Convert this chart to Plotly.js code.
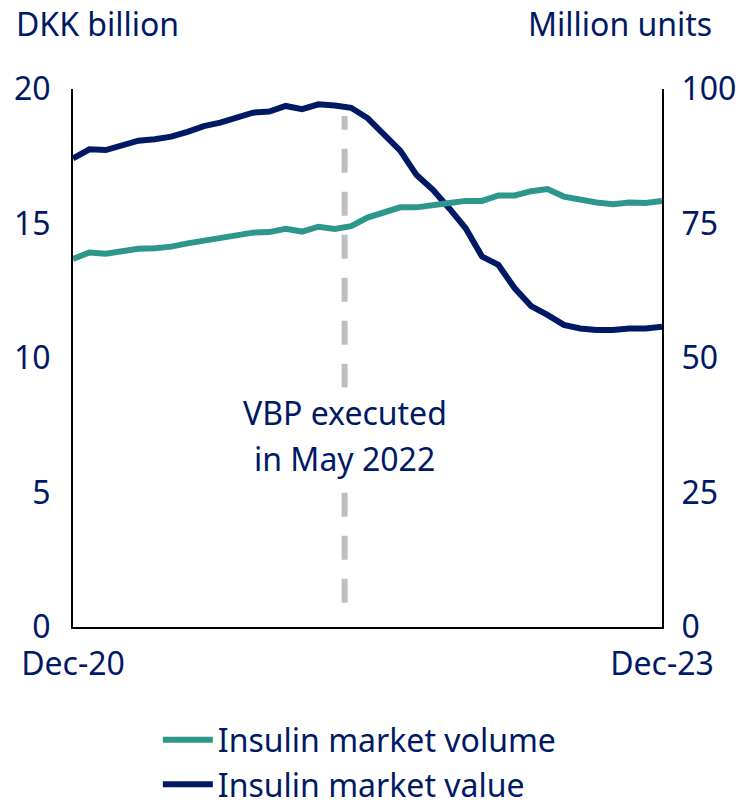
<!DOCTYPE html>
<html>
<head>
<meta charset="utf-8">
<script src="https://cdn.plot.ly/plotly-3.0.1.min.js"></script>
<style>html,body{margin:0;padding:0;background:#fff;}#chart{width:741px;height:805px;}</style>
</head>
<body>
<div id="chart"></div>
<script>
// Monthly index from Dec-20 (0) to Dec-23 (36)
const months = Array.from({length: 37}, (_, i) => i);
const tickVals = [0, 36];
const tickLabels = ['Dec-20', 'Dec-23'];

// Insulin market value, DKK billion (left axis)
const marketValue = [17.42, 17.76, 17.73, 17.92, 18.08, 18.13, 18.23, 18.41, 18.62, 18.75,
  18.91, 19.12, 19.16, 19.37, 19.25, 19.43, 19.39, 19.30, 18.92, 18.29,
  17.71, 16.80, 16.25, 15.56, 14.82, 13.77, 13.46, 12.59, 11.93, 11.60,
  11.23, 11.10, 11.04, 11.04, 11.10, 11.10, 11.16];

// Insulin market volume, million units (right axis)
const marketVolume = [68.4, 69.6, 69.4, 69.9, 70.3, 70.4, 70.7, 71.3, 71.8, 72.1,
  72.6, 73.3, 73.4, 74.0, 73.5, 74.4, 74.0, 74.5, 76.1, 77.0,
  78.0, 78.0, 78.3, 78.8, 79.2, 79.2, 80.2, 80.2, 81.0, 81.4,
  80.0, 79.4, 78.9, 78.6, 78.9, 78.8, 79.2];

const vbpIndex = 16.6;
const navy = '#001965';
const teal = '#2E978C';
const font = 'Noto Sans, Open Sans, sans-serif';
const fs = 32;

const traces = [
  {x: months, y: marketVolume, name: 'Insulin market volume', yaxis: 'y2', type: 'scatter', mode: 'lines',
   line: {color: teal, width: 6}},
  {x: months, y: marketValue, name: 'Insulin market value', yaxis: 'y', type: 'scatter', mode: 'lines',
   line: {color: navy, width: 6}}
];

const layout = {
  width: 741, height: 805,
  margin: {l: 73, r: 79, t: 89, b: 178, autoexpand: false},
  paper_bgcolor: '#fff', plot_bgcolor: '#fff',
  font: {family: font, size: fs, color: navy},
  showlegend: true,
  legend: {xref: 'container', yref: 'container', x: 0.213, xanchor: 'left', y: 0.115, yanchor: 'top',
           orientation: 'v', itemwidth: 50,
           font: {family: font, size: fs, color: navy}, bgcolor: 'rgba(0,0,0,0)', tracegroupgap: 0},
  xaxis: {range: [0, 36], tickvals: tickVals, ticktext: tickLabels, showgrid: false, zeroline: false,
          showline: true, linecolor: '#000', linewidth: 2, ticks: '', ticklabelstandoff: 8, tickangle: 0,
          tickfont: {family: font, size: fs, color: navy}},
  yaxis: {range: [0, 20], dtick: 5, tick0: 0, showgrid: false, zeroline: false,
          showline: true, linecolor: '#000', linewidth: 2, ticks: '', ticklabelstandoff: 14,
          tickfont: {family: font, size: fs, color: navy}},
  yaxis2: {range: [0, 100], dtick: 25, tick0: 0, overlaying: 'y', side: 'right', showgrid: false, zeroline: false,
           showline: true, linecolor: '#000', linewidth: 2, ticks: '', ticklabelstandoff: 11,
           tickfont: {family: font, size: fs, color: navy}},
  shapes: [
    {type: 'line', xref: 'x', yref: 'y', x0: vbpIndex, x1: vbpIndex, y0: 0.9, y1: 19.0,
     line: {color: '#BFBFBF', width: 6, dash: '24px,19px'}, layer: 'below'}
  ],
  annotations: [
    {xref: 'x', yref: 'y', x: vbpIndex, y: 7.99, text: 'VBP executed', showarrow: false,
     xanchor: 'center', yanchor: 'middle', bgcolor: '#fff', borderpad: 3, font: {family: font, size: fs, color: navy}},
    {xref: 'x', yref: 'y', x: vbpIndex, y: 6.28, text: 'in May 2022', showarrow: false,
     xanchor: 'center', yanchor: 'middle', bgcolor: '#fff', borderpad: 3, font: {family: font, size: fs, color: navy}},
    {xref: 'paper', yref: 'paper', x: -0.1, y: 1.121, xanchor: 'left', yanchor: 'middle', showarrow: false,
     text: 'DKK billion', font: {family: font, size: fs, color: navy}},
    {xref: 'paper', yref: 'paper', x: 1.088, y: 1.121, xanchor: 'right', yanchor: 'middle', showarrow: false,
     text: 'Million units', font: {family: font, size: fs, color: navy}}
  ]
};

Plotly.newPlot('chart', traces, layout, {staticPlot: true, displayModeBar: false});
</script>
</body>
</html>
